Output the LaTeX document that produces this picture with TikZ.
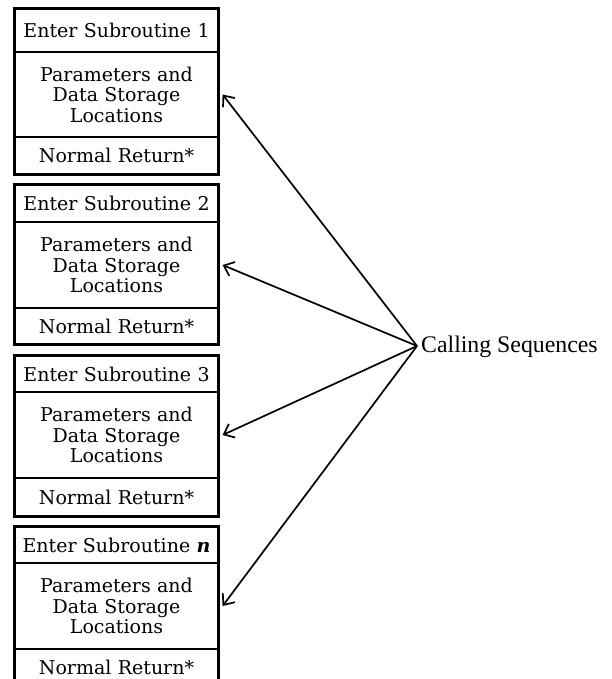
\documentclass[tikz,border=0pt]{standalone}
\usepackage{fontspec}
\setmainfont{DejaVu Serif}
\newfontfamily\labelfont{Liberation Serif}
\usetikzlibrary{arrows.meta}
\begin{document}
\begin{tikzpicture}[x=1pt,y=-1pt,
  section/.style={draw=black, line width=1.2pt, inner sep=0pt,
    minimum width=203pt, text width=200pt, align=center,
    font=\fontsize{19}{20.5}\selectfont},
  frame/.style={draw=black, line width=1.9pt},
  callarrow/.style={draw=black, line width=1.7pt,
    -{Straight Barb[length=9pt,width=15pt,line width=1.7pt]}},
  caption/.style={font=\labelfont\fontsize{23.8}{26}\selectfont, inner sep=0pt, anchor=west}]
\useasboundingbox (0,0) rectangle (612,679);
% entry point shared by all calling-sequence arrows
\coordinate (cs) at (417,346);
\node[caption] (callseq) at (421,347) {Calling Sequences};
% one three-part block per subroutine: top, header bottom, body bottom, bottom
\foreach \i/\a/\b/\c/\d/\lab in {1/9/52/137/174/1, 2/185/222/308/344/2,
    3/356/392/478/516/3, 4/527/563/649/686/{\textbf{\textit{n}}}}{
  \node[section, minimum height={(\b-\a)*1pt}] (h\i) at (116.5,{(\a+\b)/2})
    {Enter Subroutine \lab};
  \node[section, minimum height={(\c-\b)*1pt}] (b\i) at (116.5,{(\b+\c)/2})
    {Parameters and\\Data Storage\\Locations};
  \node[section, minimum height={(\d-\c)*1pt}] (r\i) at (116.5,{(\c+\d)/2})
    {Normal Return*};
  \draw[frame] (h\i.north west) rectangle (r\i.south east);
  \draw[callarrow] (cs) -- ([xshift=4pt]b\i.east);
}
\end{tikzpicture}
\end{document}
